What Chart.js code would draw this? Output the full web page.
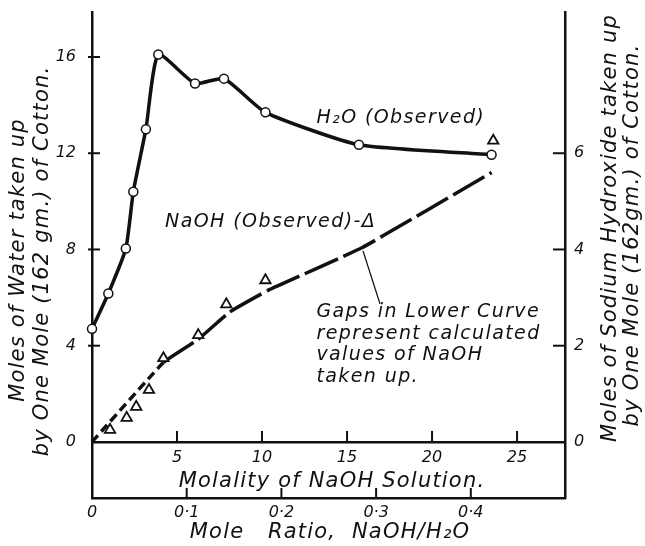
<!DOCTYPE html>
<html>
<head>
    <meta charset="utf-8">
    <title>Water and NaOH taken up by cotton</title>
    <script src="https://cdn.jsdelivr.net/npm/chart.js"></script>
    <style>
        html, body { margin: 0; padding: 0; background: #fff; }
    </style>
</head>
<body>
    <canvas id="cottonChart" width="645" height="546"></canvas>
    <script>
        // values (molality of the NaOH solution on x)
        const h2oMolality = [0, 0.96, 1.99, 2.43, 3.17, 3.9, 6.06, 7.76, 10.2, 15.7, 23.5];
        const h2oMoles = [4.7, 6.17, 8.04, 10.4, 13.0, 16.1, 14.9, 15.1, 13.7, 12.35, 11.94];

        const naohObsMolality = [1.06, 2.04, 2.6, 3.35, 4.2, 6.25, 7.9, 10.2, 23.6];
        const naohObsMoles = [0.25, 0.5, 0.73, 1.08, 1.74, 2.22, 2.86, 3.36, 6.26];

        const naohCalcMolality = [0, 4.2, 6.2, 8.1, 10.35, 15.9, 23.5];
        const naohCalcMoles = [0, 1.65, 2.12, 2.7, 3.15, 4.04, 5.6];

        const molalityTicks = [5, 10, 15, 20, 25];
        const moleRatioTicks = [0, 0.1, 0.2, 0.3, 0.4];
        const waterTicks = [0, 4, 8, 12, 16];
        const naohTicks = [0, 2, 4, 6];

        const molalityMax = 27.82;
        const molesPerRatio = 55.7;   // molality / mole ratio
        const waterMin = -2.33, waterMax = 17.87;

        const ink = '#111';
        const fontFamily = '"DejaVu Sans", sans-serif';

        function pairs(xs, ys) {
            return xs.map(function(v, i) { return {x: v, y: ys[i]}; });
        }

        function tickList(values) {
            return function(scale) {
                scale.ticks = values.map(function(v) { return {value: v}; });
            };
        }

        function noPadding(scale) {
            scale.paddingTop = 0;
            scale.paddingBottom = 0;
            scale.paddingLeft = 0;
            scale.paddingRight = 0;
        }

        function segment(ctx, x1, y1, x2, y2) {
            ctx.beginPath();
            ctx.moveTo(x1, y1);
            ctx.lineTo(x2, y2);
            ctx.stroke();
        }

        function rotatedText(ctx, text, cx, cy) {
            ctx.save();
            ctx.translate(cx, cy);
            ctx.rotate(-Math.PI / 2);
            ctx.fillText(text, 0, 0);
            ctx.restore();
        }

        // inward tick marks, axis titles and the notes on the plot
        const notes = {
            id: 'notes',
            afterDraw(chart) {
                const ctx = chart.ctx;
                const s = chart.scales;
                const area = chart.chartArea;
                ctx.save();
                ctx.strokeStyle = ink;
                ctx.fillStyle = ink;
                ctx.lineWidth = 2;

                waterTicks.forEach(function(v) {
                    if (v === 0) return;
                    const py = s.y.getPixelForValue(v);
                    segment(ctx, area.left - 4, py, area.left + 8, py);
                });
                naohTicks.forEach(function(v) {
                    if (v === 0) return;
                    const py = s.y2.getPixelForValue(v);
                    segment(ctx, area.right - 12, py, area.right, py);
                });
                const axisY = s.y.getPixelForValue(0);
                molalityTicks.forEach(function(v) {
                    const px = s.x.getPixelForValue(v);
                    segment(ctx, px, axisY, px, axisY - 11);
                });
                moleRatioTicks.forEach(function(v) {
                    if (v === 0) return;
                    const px = s.x2.getPixelForValue(v);
                    segment(ctx, px, area.bottom, px, area.bottom - 10);
                });

                // axis titles
                ctx.font = 'italic 21px ' + fontFamily;
                ctx.letterSpacing = '1.2px';
                ctx.textAlign = 'center';
                ctx.textBaseline = 'middle';
                rotatedText(ctx, 'Moles of Water taken up', 19, 260);
                rotatedText(ctx, 'by One Mole (162 gm.) of Cotton.', 43, 261);
                rotatedText(ctx, 'Moles of Sodium Hydroxide taken up', 611, 228);
                rotatedText(ctx, 'by One Mole (162gm.) of Cotton.', 633, 235);
                ctx.fillText('Molality of NaOH Solution.', 332, 482);
                ctx.fillText('Mole   Ratio,  NaOH/H\u2082O', 330, 533);

                // notes
                ctx.font = 'italic 19px ' + fontFamily;
                ctx.letterSpacing = '1.4px';
                ctx.textAlign = 'left';
                function at(m, w) {
                    return [s.x.getPixelForValue(m), s.y.getPixelForValue(w)];
                }
                let p = at(13.2, 13.47);
                ctx.fillText('H\u2082O (Observed)', p[0], p[1]);
                p = at(4.3, 9.14);
                ctx.fillText('NaOH (Observed)-\u0394', p[0], p[1]);
                const gapNote = ['Gaps in Lower Curve', 'represent calculated', 'values of NaOH', 'taken up.'];
                gapNote.forEach(function(t, i) {
                    const q = at(13.2, 5.4 - i * 0.9);
                    ctx.fillText(t, q[0], q[1]);
                });
                ctx.lineWidth = 1.3;
                const a = at(15.94, 7.94), b = at(16.94, 5.74);
                segment(ctx, a[0], a[1], b[0], b[1]);
                ctx.restore();
            }
        };

        const ctx = document.getElementById('cottonChart').getContext('2d');
        const cottonChart = new Chart(ctx, {
            type: 'line',
            data: {
                datasets: [{
                    label: 'NaOH (Observed)',
                    data: pairs(naohObsMolality, naohObsMoles),
                    yAxisID: 'y2',
                    showLine: false,
                    pointStyle: 'triangle',
                    pointRadius: 6,
                    pointBackgroundColor: '#fff',
                    pointBorderColor: ink,
                    pointBorderWidth: 1.8,
                    clip: false
                }, {
                    label: 'H2O (Observed)',
                    data: pairs(h2oMolality, h2oMoles),
                    yAxisID: 'y',
                    borderColor: ink,
                    borderWidth: 3.5,
                    tension: 0.18,
                    pointRadius: 4.5,
                    pointBackgroundColor: '#fff',
                    pointBorderColor: ink,
                    pointBorderWidth: 1.5,
                    clip: false
                }, {
                    label: 'NaOH (calculated)',
                    data: pairs(naohCalcMolality, naohCalcMoles),
                    yAxisID: 'y2',
                    borderColor: ink,
                    borderWidth: 3.5,
                    tension: 0.1,
                    pointRadius: 0,
                    segment: {
                        borderDash: function(c) {
                            return c.p0.parsed.x < 4 ? [9, 5] : [36, 6];
                        }
                    },
                    clip: false
                }]
            },
            options: {
                responsive: false,
                animation: false,
                layout: { padding: { top: 12, left: 0, right: 0, bottom: 0 } },
                plugins: {
                    legend: { display: false },
                    tooltip: { enabled: false }
                },
                scales: {
                    x: {
                        type: 'linear',
                        min: 0,
                        max: molalityMax,
                        position: { y: 0 },
                        afterBuildTicks: tickList(molalityTicks),
                        afterFit: noPadding,
                        ticks: {
                            color: ink,
                            padding: 6,
                            maxRotation: 0,
                            font: { family: fontFamily, size: 16, style: 'italic' }
                        },
                        grid: { display: false, drawTicks: false },
                        border: { color: ink, width: 2.5 }
                    },
                    x2: {
                        type: 'linear',
                        min: 0,
                        max: molalityMax / molesPerRatio,
                        position: 'bottom',
                        afterBuildTicks: tickList(moleRatioTicks),
                        afterFit: function(scale) { noPadding(scale); scale.height = 48; },
                        ticks: {
                            color: ink,
                            padding: 5,
                            maxRotation: 0,
                            font: { family: fontFamily, size: 16, style: 'italic' },
                            callback: function(v) {
                                return v === 0 ? '0' : v.toFixed(1).replace('.', '\u00b7');
                            }
                        },
                        grid: { display: false, drawTicks: false },
                        border: { color: ink, width: 2.5 }
                    },
                    y: {
                        type: 'linear',
                        min: waterMin,
                        max: waterMax,
                        position: 'left',
                        afterBuildTicks: tickList(waterTicks),
                        afterFit: function(scale) { noPadding(scale); scale.width = 92; },
                        ticks: {
                            color: ink,
                            padding: 16,
                            font: { family: fontFamily, size: 16, style: 'italic' }
                        },
                        grid: { display: false, drawTicks: false },
                        border: { color: ink, width: 2.5 }
                    },
                    y2: {
                        type: 'linear',
                        min: waterMin / 2,
                        max: waterMax / 2,
                        position: 'right',
                        afterBuildTicks: tickList(naohTicks),
                        afterFit: function(scale) { noPadding(scale); scale.width = 80; },
                        ticks: {
                            color: ink,
                            padding: 9,
                            font: { family: fontFamily, size: 16, style: 'italic' }
                        },
                        grid: { display: false, drawTicks: false },
                        border: { color: ink, width: 2.5 }
                    }
                }
            },
            plugins: [notes]
        });
    </script>
</body>
</html>
